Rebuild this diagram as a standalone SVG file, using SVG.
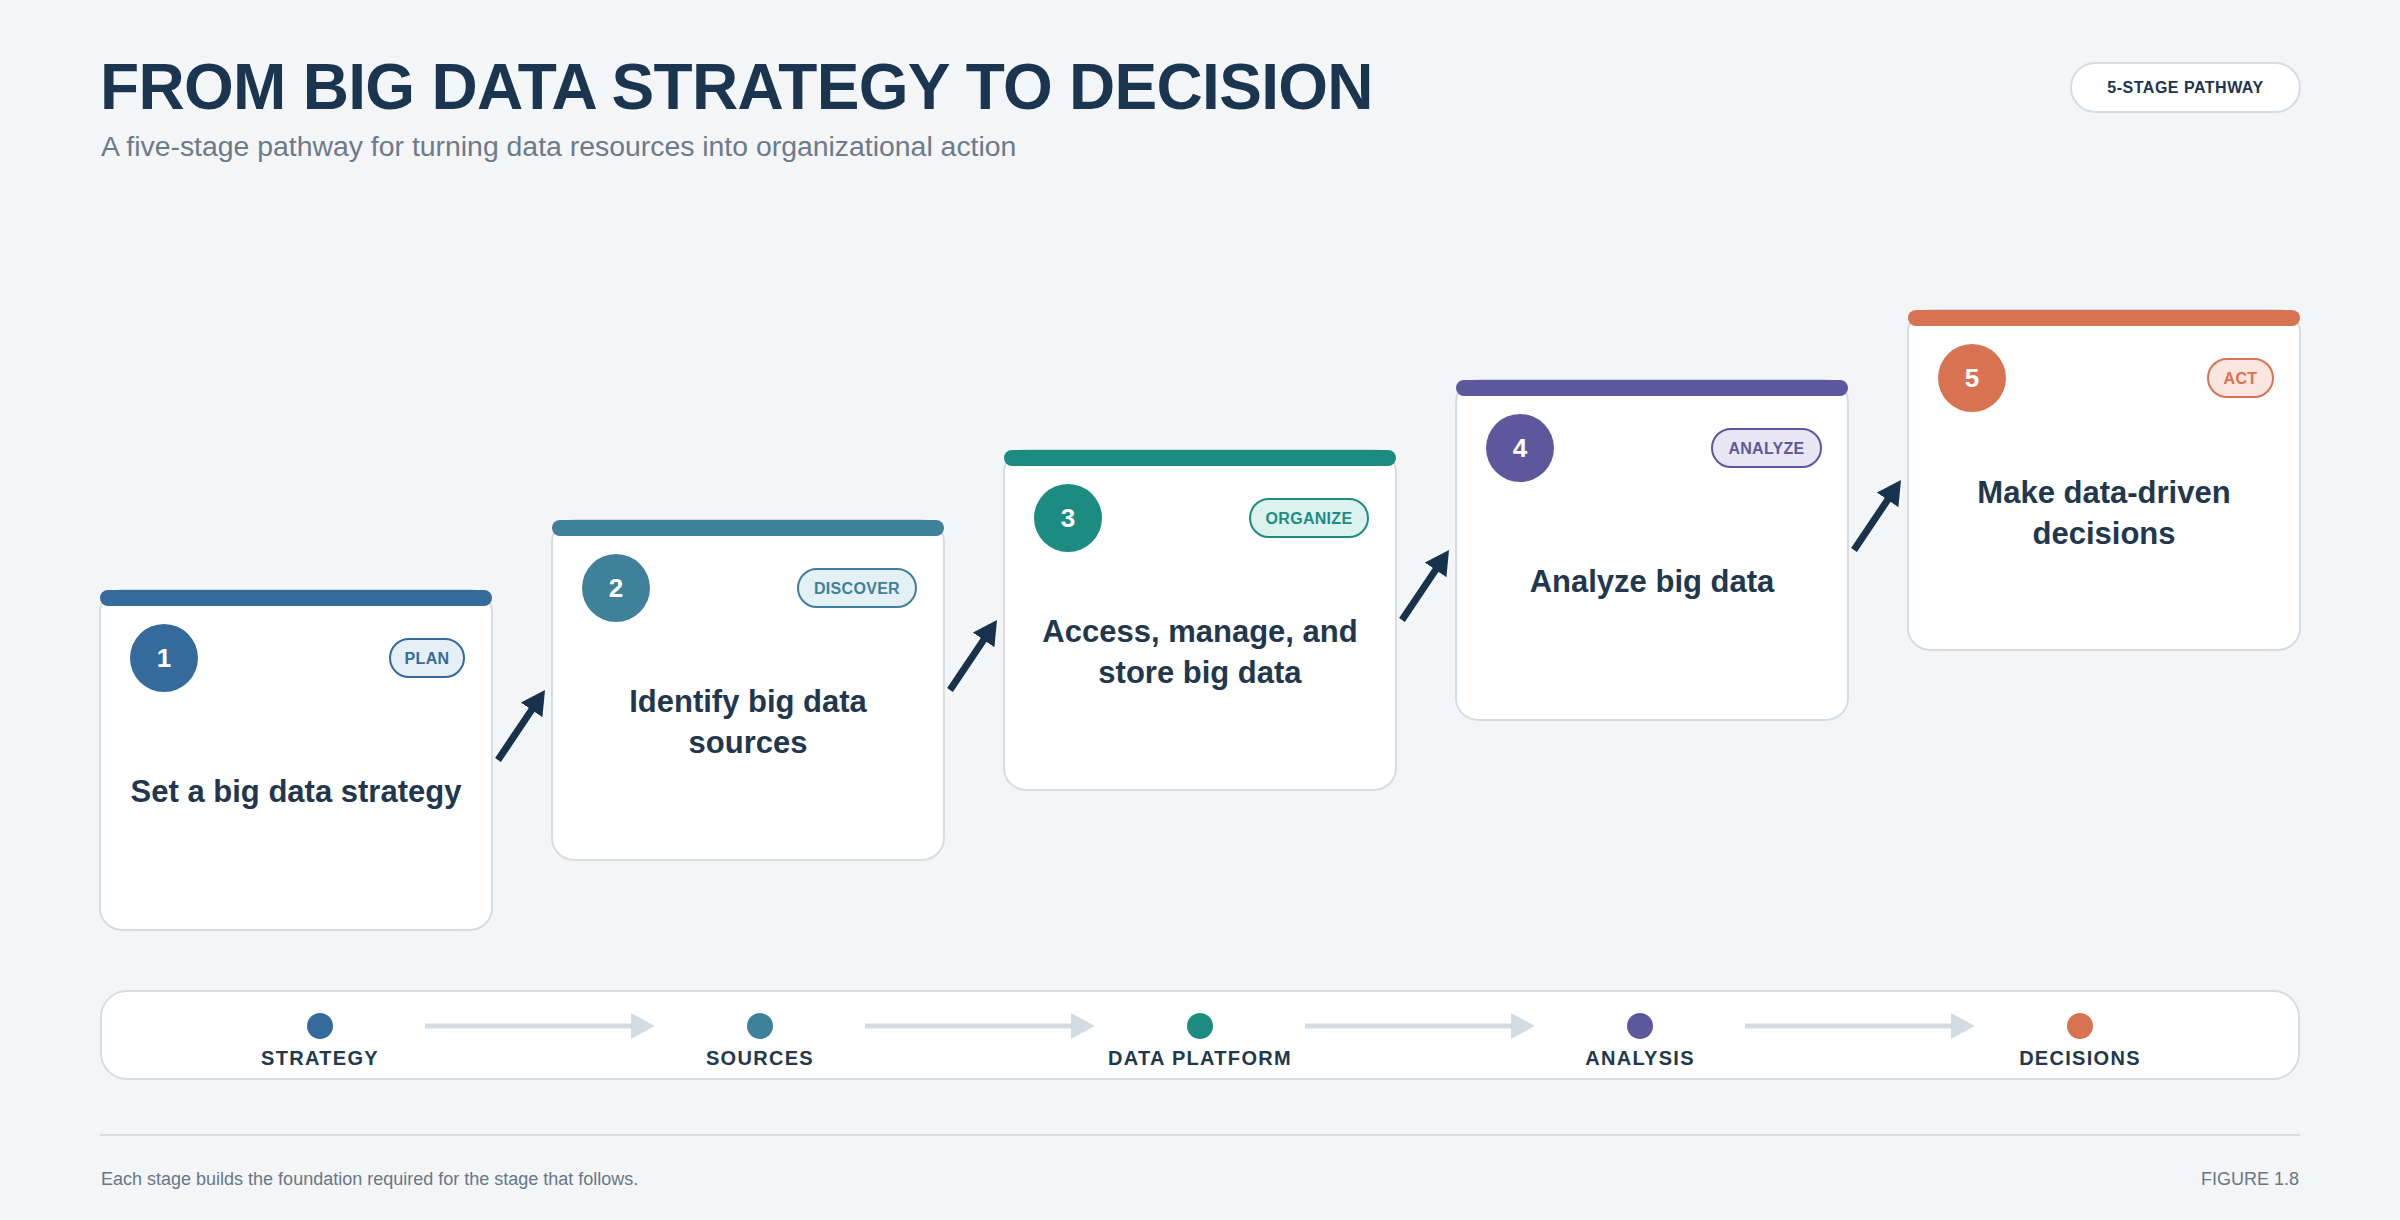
<svg xmlns="http://www.w3.org/2000/svg" width="2400" height="1220" viewBox="0 0 2400 1220">
<defs>
<style>
text{font-family:"Liberation Sans",Arial,sans-serif}
.title{font-size:64px;font-weight:700;fill:#1a3550;letter-spacing:-0.7px}
.sub{font-size:28.4px;fill:#6b7b8b}
.badge{fill:#fff;stroke:#d5dde4;stroke-width:2}
.badgetxt{font-size:16px;font-weight:700;fill:#1a3550;text-anchor:middle;letter-spacing:0.5px}
.card{fill:#fff;stroke:#d5dde4;stroke-width:2}
.num{font-size:26px;font-weight:700;fill:#fff;text-anchor:middle}
.pilltxt{font-size:16px;font-weight:700;text-anchor:middle;letter-spacing:0.3px}
.lbl{font-size:31px;font-weight:700;fill:#22374d;text-anchor:middle}
.conn{stroke:#17324d;stroke-width:7;fill:none}
.legend{fill:#fff;stroke:#d5dde4;stroke-width:2}
.lgarrow{stroke:#d3dce3;stroke-width:5;fill:none}
.lgtxt{font-size:20px;font-weight:700;fill:#23374d;text-anchor:middle;letter-spacing:1.3px}
.foot{font-size:18px;fill:#677787}
</style>
<marker id="ah" markerUnits="userSpaceOnUse" markerWidth="24" markerHeight="26" refX="4" refY="13" orient="auto" viewBox="0 0 24 26">
<path d="M0,0 L24,13 L0,26 Z" fill="#17324d"/>
</marker>
<marker id="lh" markerUnits="userSpaceOnUse" markerWidth="24" markerHeight="26" refX="4" refY="13" orient="auto" viewBox="0 0 24 26">
<path d="M0,0 L24,13 L0,26 Z" fill="#d3dce3"/>
</marker>
</defs>
<rect x="0" y="0" width="2400" height="1220" fill="#f3f5f7"/>

<g id="header">
<text class="title" x="100" y="109">FROM BIG DATA STRATEGY TO DECISION</text>
<text class="sub" x="101" y="156">A five-stage pathway for turning data resources into organizational action</text>
</g>
<g id="badge">
<rect class="badge" x="2071" y="63" width="229" height="49" rx="24.5"/>
<text class="badgetxt" x="2185.5" y="93">5-STAGE PATHWAY</text>
</g>

<g id="connectors">
<line class="conn" x1="498" y1="760" x2="533.85" y2="706.6" marker-end="url(#ah)"/>
<line class="conn" x1="950" y1="690" x2="985.85" y2="636.6" marker-end="url(#ah)"/>
<line class="conn" x1="1402" y1="620" x2="1437.85" y2="566.6" marker-end="url(#ah)"/>
<line class="conn" x1="1854" y1="550" x2="1889.85" y2="496.6" marker-end="url(#ah)"/>
</g>

<g id="stage1">
<rect class="card" x="100" y="590" width="392" height="340" rx="22"/>
<rect x="100" y="590" width="392" height="16" rx="8" fill="#356a9c"/>
<circle cx="164" cy="658" r="34" fill="#356a9c"/>
<text class="num" x="164" y="667">1</text>
<rect x="390" y="639" width="74" height="38" rx="19" fill="#e6eef6" stroke="#356a9c" stroke-width="2"/>
<text class="pilltxt" x="427" y="664" fill="#356a9c">PLAN</text>
<text class="lbl" x="296" y="802">Set a big data strategy</text>
</g>

<g id="stage2">
<rect class="card" x="552" y="520" width="392" height="340" rx="22"/>
<rect x="552" y="520" width="392" height="16" rx="8" fill="#3f809b"/>
<circle cx="616" cy="588" r="34" fill="#3f809b"/>
<text class="num" x="616" y="597">2</text>
<rect x="798" y="569" width="118" height="38" rx="19" fill="#e3f0f4" stroke="#3f809b" stroke-width="2"/>
<text class="pilltxt" x="857" y="594" fill="#3f809b">DISCOVER</text>
<text class="lbl" x="748" y="712">Identify big data</text>
<text class="lbl" x="748" y="753">sources</text>
</g>

<g id="stage3">
<rect class="card" x="1004" y="450" width="392" height="340" rx="22"/>
<rect x="1004" y="450" width="392" height="16" rx="8" fill="#1c8c82"/>
<circle cx="1068" cy="518" r="34" fill="#1c8c82"/>
<text class="num" x="1068" y="527">3</text>
<rect x="1250" y="499" width="118" height="38" rx="19" fill="#dcf2ee" stroke="#1c8c82" stroke-width="2"/>
<text class="pilltxt" x="1309" y="524" fill="#1c8c82">ORGANIZE</text>
<text class="lbl" x="1200" y="642">Access, manage, and</text>
<text class="lbl" x="1200" y="683">store big data</text>
</g>

<g id="stage4">
<rect class="card" x="1456" y="380" width="392" height="340" rx="22"/>
<rect x="1456" y="380" width="392" height="16" rx="8" fill="#5d589d"/>
<circle cx="1520" cy="448" r="34" fill="#5d589d"/>
<text class="num" x="1520" y="457">4</text>
<rect x="1712" y="429" width="109" height="38" rx="19" fill="#e8e6f5" stroke="#5d589d" stroke-width="2"/>
<text class="pilltxt" x="1766.5" y="454" fill="#5d589d">ANALYZE</text>
<text class="lbl" x="1652" y="592">Analyze big data</text>
</g>

<g id="stage5">
<rect class="card" x="1908" y="310" width="392" height="340" rx="22"/>
<rect x="1908" y="310" width="392" height="16" rx="8" fill="#d87352"/>
<circle cx="1972" cy="378" r="34" fill="#d87352"/>
<text class="num" x="1972" y="387">5</text>
<rect x="2208" y="359" width="65" height="38" rx="19" fill="#fae6de" stroke="#d87352" stroke-width="2"/>
<text class="pilltxt" x="2240.5" y="384" fill="#d87352">ACT</text>
<text class="lbl" x="2104" y="503">Make data-driven</text>
<text class="lbl" x="2104" y="544">decisions</text>
</g>

<g id="legend">
<rect class="legend" x="101" y="991" width="2198" height="88" rx="26"/>
<line class="lgarrow" x1="425" y1="1026" x2="635" y2="1026" marker-end="url(#lh)"/>
<line class="lgarrow" x1="865" y1="1026" x2="1075" y2="1026" marker-end="url(#lh)"/>
<line class="lgarrow" x1="1305" y1="1026" x2="1515" y2="1026" marker-end="url(#lh)"/>
<line class="lgarrow" x1="1745" y1="1026" x2="1955" y2="1026" marker-end="url(#lh)"/>
<circle cx="320" cy="1026" r="13" fill="#356a9c"/>
<circle cx="760" cy="1026" r="13" fill="#3f809b"/>
<circle cx="1200" cy="1026" r="13" fill="#1c8c82"/>
<circle cx="1640" cy="1026" r="13" fill="#5d589d"/>
<circle cx="2080" cy="1026" r="13" fill="#d87352"/>
<text class="lgtxt" x="320" y="1065">STRATEGY</text>
<text class="lgtxt" x="760" y="1065">SOURCES</text>
<text class="lgtxt" x="1200" y="1065">DATA PLATFORM</text>
<text class="lgtxt" x="1640" y="1065">ANALYSIS</text>
<text class="lgtxt" x="2080" y="1065">DECISIONS</text>
</g>

<g id="footer">
<line x1="100" y1="1135" x2="2300" y2="1135" stroke="#d5dde4" stroke-width="2"/>
<text class="foot" x="101" y="1185">Each stage builds the foundation required for the stage that follows.</text>
<text class="foot" x="2299" y="1185" text-anchor="end">FIGURE 1.8</text>
</g>
</svg>
